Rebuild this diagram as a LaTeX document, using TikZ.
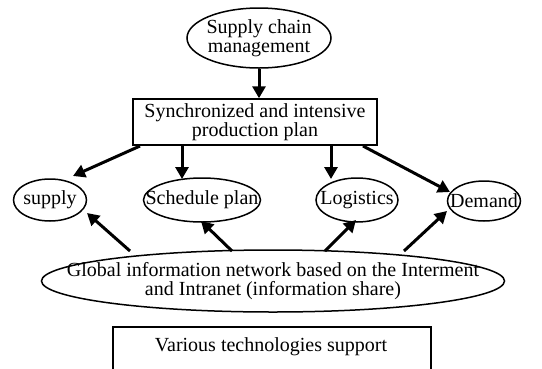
\documentclass[tikz,border=0pt]{standalone}
\usepackage{fontspec}
\setmainfont{Liberation Serif}
\usetikzlibrary{shapes.geometric,arrows.meta}
\begin{document}
\begin{tikzpicture}[x=1pt,y=-1pt,
  every node/.style={font=\fontsize{20}{18.5}\selectfont, align=center, inner sep=0pt},
  oval/.style={draw, ellipse, line width=1.5pt, fill=white},
  rbox/.style={draw, rectangle, line width=1.5pt, fill=white},
  arr/.style={line width=3pt, -{Triangle[length=12pt,width=13pt]}}]
\useasboundingbox (0,0) rectangle (542,368);
\clip (0,0) rectangle (542,368);
\node[oval, minimum width=144pt, minimum height=60pt, label=center:{Supply chain\\management}] (scm) at (259,38) {};
\node[rbox, minimum width=244pt, minimum height=46pt] (plan) at (255,122) {Synchronized and intensive\\production plan};
\node[oval, minimum width=73pt, minimum height=42pt, label=center:supply] (sup) at (50,200) {};
\node[oval, minimum width=117pt, minimum height=44pt, label=center:{Schedule plan}] (sch) at (202,200) {};
\node[oval, minimum width=82pt, minimum height=44pt, label=center:Logistics] (log) at (357,200) {};
\node[oval, minimum width=73pt, minimum height=40pt, label=center:Demand] (dem) at (484,201) {};
\node[oval, minimum width=463pt, minimum height=62pt, label=center:{Global information network based on the Interment\\and Intranet (information share)}] (glob) at (273,281) {};
\node[rbox, minimum width=318pt, minimum height=70pt, anchor=north west] (tech) at (112,326) {};
\node at (271,347) {Various technologies support};
\coordinate (p1) at (140,146);
\coordinate (p2) at (182,145);
\coordinate (p3) at (331,145);
\coordinate (p4) at (363,146);
\coordinate (g1) at (130,251);
\coordinate (g2) at (232,251);
\coordinate (g3) at (325,251);
\coordinate (g4) at (404,251);
\draw[arr] (scm.south) -- (scm.south |- plan.north);
\draw[arr] (p1) -- (73,176);
\draw[arr] (p2) -- (182,179);
\draw[arr] (p3) -- (331,179);
\draw[arr] (p4) -- (450,192);
\draw[arr] (g1) -- (87,213);
\draw[arr] (g2) -- (201,221);
\draw[arr] (g3) -- (356,220);
\draw[arr] (g4) -- (447,211);
\end{tikzpicture}
\end{document}
